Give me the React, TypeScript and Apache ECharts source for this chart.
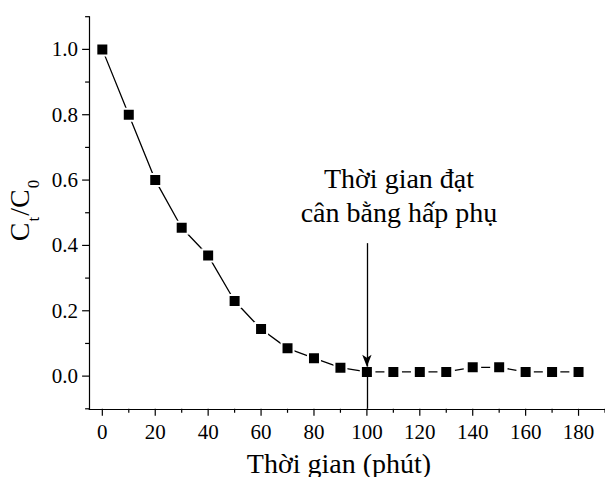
import React, { useEffect, useRef } from 'react';
import * as echarts from 'echarts';

// ---- data ----
const timeMinutes = [0, 10, 20, 30, 40, 50, 60, 70, 80, 90, 100, 110, 120, 130, 140, 150, 160, 170, 180];
const ctOverC0 = [1.0, 0.8, 0.6, 0.454, 0.369, 0.23, 0.144, 0.085, 0.055, 0.026, 0.013, 0.013, 0.013, 0.013, 0.027, 0.027, 0.013, 0.013, 0.013];
const equilibriumTime = 100;
const xTickValues = [0, 20, 40, 60, 80, 100, 120, 140, 160, 180];
const xMinorTickValues = [10, 30, 50, 70, 90, 110, 130, 150, 170, 190];
const yTickValues = [0, 0.2, 0.4, 0.6, 0.8, 1.0];
const yMinorTickValues = [-0.1, 0.1, 0.3, 0.5, 0.7, 0.9, 1.1];
const xAxisTitle = 'Thời gian (phút)';
const annotationLines = ['Thời gian đạt', 'cân bằng hấp phụ'];

// ---- layout / style ----
const FONT = 'Liberation Serif';
const X_MIN = -5;
const X_MAX = 190;
const Y_MIN = -0.1;
const Y_MAX = 1.1;
const ARROW_TOP = 0.407;
const ARROW_TIP = 0.029;
const AXIS_COLOR = '#000';
const MAJOR_TICK_LEN = 7;
const MINOR_TICK_LEN = 4;
const TICK_FONT_SIZE = 21;

export default function App() {
  const ref = useRef<HTMLDivElement>(null);

  useEffect(() => {
    if (!ref.current) return;
    const chart = echarts.init(ref.current, undefined, { renderer: 'svg' });

    const points = timeMinutes.map((t, i) => [t, ctOverC0[i]]);
    const solidPart = points.filter((p) => p[0] <= equilibriumTime);
    const dashedPart = points.filter((p) => p[0] >= equilibriumTime);
    const eqValue = ctOverC0[timeMinutes.indexOf(equilibriumTime)];

    const axisLineStyle = { color: AXIS_COLOR, width: 1.2 };
    const markerStyle = { color: '#000', borderColor: '#fff', borderWidth: 2 };

    // tick marks drawn through the axes' own scales (api.coord)
    const tickSeries = (data: number[][], dir: 'down' | 'left', len: number) => ({
      type: 'custom',
      coordinateSystem: 'cartesian2d',
      clip: false,
      silent: true,
      z: 5,
      data,
      renderItem: (_params: any, api: any) => {
        const p = api.coord([api.value(0), api.value(1)]);
        const shape = dir === 'down'
          ? { x1: p[0], y1: p[1], x2: p[0], y2: p[1] + len }
          : { x1: p[0], y1: p[1], x2: p[0] - len, y2: p[1] };
        return { type: 'line', shape, style: { stroke: AXIS_COLOR, lineWidth: 1.2 } };
      },
    });

    // tick labels placed through the axes' own scales (api.coord)
    const tickLabelSeries = (data: number[][], dir: 'down' | 'left', fmt: (v: number) => string) => ({
      type: 'custom',
      coordinateSystem: 'cartesian2d',
      clip: false,
      silent: true,
      z: 5,
      data,
      renderItem: (_params: any, api: any) => {
        const v = dir === 'down' ? api.value(0) : api.value(1);
        const p = api.coord([api.value(0), api.value(1)]);
        const down = dir === 'down';
        return {
          type: 'text',
          x: down ? p[0] : p[0] - 11,
          y: down ? p[1] + 12.6 : p[1],
          style: {
            text: fmt(v),
            fontSize: TICK_FONT_SIZE,
            fontFamily: FONT,
            fill: '#000',
            align: down ? 'center' : 'right',
            verticalAlign: down ? 'top' : 'middle',
          },
        };
      },
    });

    const option: any = {
      animation: false,
      grid: { left: 89.1, right: -1.5, top: 16.7, bottom: 68.2 },
      xAxis: {
        type: 'value', min: X_MIN, max: X_MAX,
        axisLine: { onZero: false, lineStyle: axisLineStyle },
        axisTick: { show: false },
        axisLabel: { show: false },
        splitLine: { show: false },
      },
      yAxis: {
        type: 'value', min: Y_MIN, max: Y_MAX,
        axisLine: { show: true, onZero: false, lineStyle: axisLineStyle },
        axisTick: { show: false },
        axisLabel: { show: false },
        splitLine: { show: false },
      },
      series: [
        {
          type: 'line', data: solidPart,
          symbol: 'rect', symbolSize: 12, itemStyle: markerStyle,
          lineStyle: { color: '#000', width: 1.3 },
          emphasis: { disabled: true },
          markLine: {
            silent: true, symbol: ['none', 'arrow'], symbolSize: [7, 12],
            label: { show: false }, emphasis: { disabled: true },
            lineStyle: { color: '#000', width: 1.3, type: 'solid' },
            data: [[{ coord: [equilibriumTime, ARROW_TOP] }, { coord: [equilibriumTime, ARROW_TIP] }]],
          },
        },
        {
          type: 'line', data: dashedPart,
          symbol: 'rect', symbolSize: 12, itemStyle: markerStyle,
          lineStyle: { color: '#000', width: 1.3, type: [9, 17.53], dashOffset: 17.78 },
          emphasis: { disabled: true },
          markLine: {
            silent: true, symbol: ['none', 'none'],
            label: { show: false }, emphasis: { disabled: true },
            lineStyle: { color: '#000', width: 1.3, type: 'solid' },
            data: [[{ coord: [equilibriumTime, eqValue] }, { coord: [equilibriumTime, Y_MIN] }]],
          },
        },
        tickSeries(xTickValues.map((v) => [v, Y_MIN]), 'down', MAJOR_TICK_LEN),
        tickSeries(xMinorTickValues.map((v) => [v, Y_MIN]), 'down', MINOR_TICK_LEN),
        tickSeries(yTickValues.map((v) => [X_MIN, v]), 'left', MAJOR_TICK_LEN),
        tickSeries(yMinorTickValues.map((v) => [X_MIN, v]), 'left', MINOR_TICK_LEN),
        tickLabelSeries(xTickValues.map((v) => [v, Y_MIN]), 'down', (v) => String(Math.round(v))),
        tickLabelSeries(yTickValues.map((v) => [X_MIN, v]), 'left', (v) => v.toFixed(1)),
      ],
      graphic: [
        {
          type: 'text', x: 399, y: 178.5, silent: true,
          style: {
            text: annotationLines[0], fontSize: 28, fontFamily: FONT, fill: '#000',
            align: 'center', verticalAlign: 'middle',
          },
        },
        {
          type: 'text', x: 399, y: 212.2, silent: true,
          style: {
            text: annotationLines[1], fontSize: 28, fontFamily: FONT, fill: '#000',
            align: 'center', verticalAlign: 'middle',
          },
        },
        {
          type: 'text', x: 339, y: 463.5, silent: true,
          style: {
            text: xAxisTitle, fontSize: 28, fontFamily: FONT, fill: '#000',
            align: 'center', verticalAlign: 'middle',
          },
        },
        {
          type: 'text', x: 23.6, y: 210, rotation: Math.PI / 2, silent: true,
          style: {
            text: '{a|C}{b|t}{a|/C}{b|0}',
            fill: '#000', fontFamily: FONT, fontSize: 28,
            align: 'center', verticalAlign: 'middle',
            rich: {
              a: { fontSize: 28, fontFamily: FONT, fill: '#000', verticalAlign: 'top' },
              b: { fontSize: 17, fontFamily: FONT, fill: '#000', verticalAlign: 'top', padding: [19, 1, 0, 1] },
            },
          },
        },
      ],
    };

    chart.setOption(option);
    return () => chart.dispose();
  }, []);

  return (
    <div
      ref={ref}
      style={{ position: 'fixed', left: 0, top: 0, width: 605, height: 477, background: '#fff' }}
    />
  );
}
